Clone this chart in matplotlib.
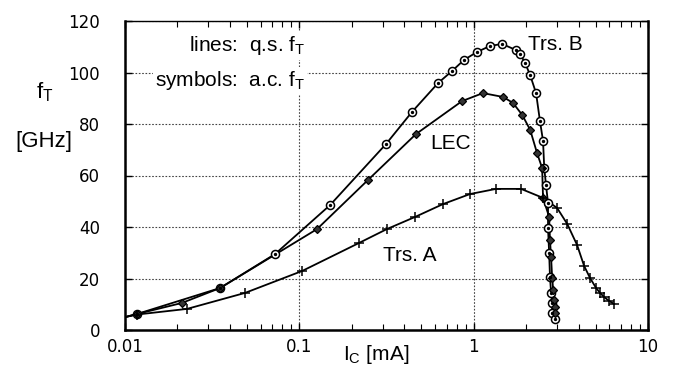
import matplotlib
matplotlib.use("Agg")
import matplotlib.pyplot as plt
import numpy as np

plt.rcParams['font.family'] = ['Liberation Sans', 'DejaVu Sans']
plt.rcParams['mathtext.default'] = 'regular'

# ---- data: symbols (a.c. fT) ----
b_ic = [0.0117, 0.0351, 0.0726, 0.150, 0.314, 0.443, 0.625, 0.752, 0.881, 1.047, 1.242, 1.455,
        1.751, 1.846, 1.972, 2.108, 2.28, 2.40, 2.50, 2.54, 2.60, 2.67, 2.67, 2.71, 2.74, 2.78,
        2.82, 2.82, 2.93]
b_ft = [6.2, 16.3, 29.5, 48.5, 72.2, 84.7, 95.9, 100.6, 104.9, 108.0, 110.3, 111.1,
        108.7, 107.2, 103.7, 99.0, 92.0, 81.2, 73.4, 62.9, 56.3, 49.3, 39.6, 29.9, 20.6, 14.4,
        10.5, 6.6, 4.3]

lec_ic = [0.0117, 0.0212, 0.0351, 0.1264, 0.248, 0.467, 0.858, 1.13, 1.475, 1.68, 1.90, 2.11,
          2.31, 2.47, 2.50, 2.71, 2.74, 2.78, 2.82, 2.86, 2.90, 2.93, 2.93]
lec_ft = [6.2, 10.5, 16.3, 39.2, 58.3, 76.1, 88.9, 92.0, 90.5, 88.2, 83.5, 77.7,
          68.7, 62.9, 51.3, 43.9, 35.0, 28.3, 20.2, 15.5, 11.7, 8.9, 6.6]

a_ic = [0.0117, 0.0227, 0.0488, 0.1036, 0.220, 0.318, 0.461, 0.667, 0.953, 1.344, 1.87, 2.50,
        3.01, 3.44, 3.92, 4.30, 4.65, 5.04, 5.31, 5.60, 5.98, 6.39]
a_ft = [6.0, 8.2, 14.4, 22.9, 33.8, 39.2, 43.9, 48.9, 52.8, 54.8, 54.8, 51.3,
        47.4, 41.2, 33.0, 24.9, 20.2, 16.3, 14.4, 12.8, 11.3, 10.1]

# ---- data: lines (q.s. fT) ----
b_line_ic = [0.01] + b_ic
b_line_ft = [5.0] + b_ft
lec_line_ic = [0.01] + lec_ic + [2.95]
lec_line_ft = [5.0] + lec_ft + [4.0]
a_line_ic = [0.01] + a_ic
a_line_ft = [5.0] + a_ft

yticks = [0, 20, 40, 60, 80, 100, 120]
xticks = [0.01, 0.1, 1, 10]
xticklabels = ['0.01', '0.1', '1', '10']

W, H = 676, 366
fig = plt.figure(figsize=(W / 100, H / 100), dpi=100)
ax = fig.add_axes([125 / W, 1 - 330 / H, (648 - 125) / W, (330 - 21) / H])

lw = 1.3
ax.plot(b_line_ic, b_line_ft, color='black', lw=lw, zorder=3)
ax.plot(lec_line_ic, lec_line_ft, color='black', lw=lw, zorder=3)
ax.plot(a_line_ic, a_line_ft, color='black', lw=lw, zorder=3)

ax.plot(b_ic, b_ft, ls='none', marker='o', ms=5.8, mfc='white', mec='black', mew=1.1, zorder=4)
ax.plot(b_ic, b_ft, ls='none', marker='o', ms=1.4, mfc='black', mec='black', zorder=5)
ax.plot(lec_ic, lec_ft, ls='none', marker='D', ms=3.8, mfc='#333333', mec='black', mew=0.9, zorder=4)
ax.plot(a_ic, a_ft, ls='none', marker='+', ms=6.5, mec='black', mew=1.1, zorder=4)

ax.set_xscale('log')
ax.set_xlim(0.01, 10)
ax.set_ylim(0, 120)
ax.set_xticks(xticks)
ax.set_xticklabels(xticklabels)
ax.set_yticks(yticks)

for lab in ax.get_xticklabels() + ax.get_yticklabels():
    lab.set_fontfamily('DejaVu Sans')
    lab.set_fontsize(12)

ax.tick_params(axis='x', which='major', direction='in', length=5, width=1, top=True, pad=6)
ax.tick_params(axis='x', which='minor', direction='in', length=4, width=0.8, top=True)
ax.tick_params(axis='y', which='major', direction='in', length=5, width=1, right=True, pad=18)

ax.grid(True, which='major', ls=(0, (1.5, 1.5)), color='#444444', lw=0.8)
ax.set_axisbelow(True)

for s in ['left', 'bottom', 'right']:
    ax.spines[s].set_linewidth(1.8)
ax.spines['top'].set_linewidth(1.0)

fs = 15
bb = dict(facecolor='white', edgecolor='none', pad=1.5)
ax.text(0.108, 110.3, 'lines:  q.s. f$_T$', fontsize=fs, ha='right', va='center', bbox=bb, zorder=6)
ax.text(0.108, 97.0, 'symbols:  a.c. f$_T$', fontsize=fs, ha='right', va='center', bbox=bb, zorder=6)
ax.text(2.05, 110.7, 'Trs. B', fontsize=fs, ha='left', va='center', zorder=6)
ax.text(0.56, 72.6, 'LEC', fontsize=fs, ha='left', va='center', zorder=6)
ax.text(0.30, 29.1, 'Trs. A', fontsize=fs, ha='left', va='center', zorder=6)

fig.text(45 / W, 1 - 92 / H, 'f$_T$', fontsize=16, ha='center', va='center')
fig.text(44 / W, 1 - 142 / H, '[GHz]', fontsize=16, ha='center', va='center')
fig.text(376 / W, 1 - 354 / H, 'I$_C$ [mA]', fontsize=15, ha='center', va='center')

fig.savefig('out.png', dpi=100)
